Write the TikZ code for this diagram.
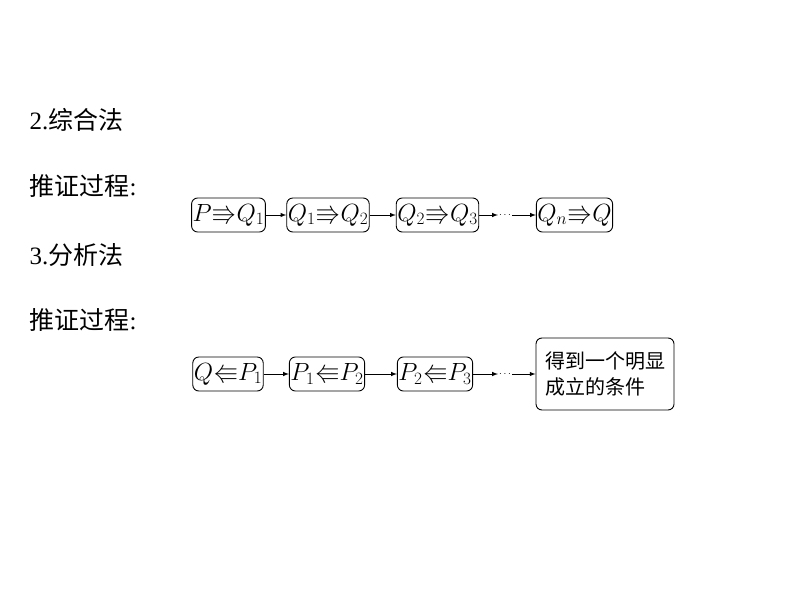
\documentclass[tikz,border=0pt]{standalone}
\usepackage{fontspec}
\usepackage{amssymb}
\newfontfamily\cjk{Noto Sans CJK SC}
\setmainfont{Liberation Serif}
\begin{document}
\begin{tikzpicture}[x=1pt,y=-1pt,
  bx/.style={draw,rounded corners=6pt,line width=0.9pt,inner sep=1pt,minimum height=34pt,font=\fontsize{25}{28}\selectfont},
  ar/.style={-latex,line width=1pt},
  hd/.style={anchor=west,font=\fontsize{25}{28}\selectfont}]
\useasboundingbox (0,0) rectangle (794,596);
\node[hd] (h1) at (26,120) {2.\cjk 综合法};
\node[hd] (h2) at (26,186) {\cjk 推证过程\rmfamily:};
\node[hd] (h3) at (26,255) {3.\cjk 分析法};
\node[hd] (h4) at (26,320) {\cjk 推证过程\rmfamily:};
\node[bx,minimum width=71pt] (a1) at (228.5,215) {$P{\Rrightarrow}Q_1$};
\node[bx,minimum width=76pt] (a2) at (328,215) {$Q_1{\Rrightarrow}Q_2$};
\node[bx,minimum width=77pt] (a3) at (437.5,215) {$Q_2{\Rrightarrow}Q_3$};
\node[font=\normalsize,inner sep=1pt] (ad) at (505,215) {$\cdots$};
\node[bx,minimum width=75pt] (a4) at (574.5,215) {$Q_n{\Rrightarrow}Q$};
\draw[ar] (a1) -- (a2); \draw[ar] (a2) -- (a3);
\draw[ar] (a3) -- (ad); \draw[ar] (ad) -- (a4);
\node[bx,minimum width=70pt] (b1) at (228,374) {$Q{\Lleftarrow}P_1$};
\node[bx,minimum width=74pt] (b2) at (327,374) {$P_1{\Lleftarrow}P_2$};
\node[bx,minimum width=72pt] (b3) at (435,374) {$P_2{\Lleftarrow}P_3$};
\node[font=\normalsize,inner sep=1pt] (bd) at (505,374) {$\cdots$};
\node[bx,minimum width=138pt,minimum height=72pt,align=left,font=\cjk\fontsize{20}{26}\selectfont] (b4) at (605,374) {得到一个明显\\成立的条件};
\draw[ar] (b1) -- (b2); \draw[ar] (b2) -- (b3);
\draw[ar] (b3) -- (bd); \draw[ar] (bd) -- (b4);
\end{tikzpicture}
\end{document}
